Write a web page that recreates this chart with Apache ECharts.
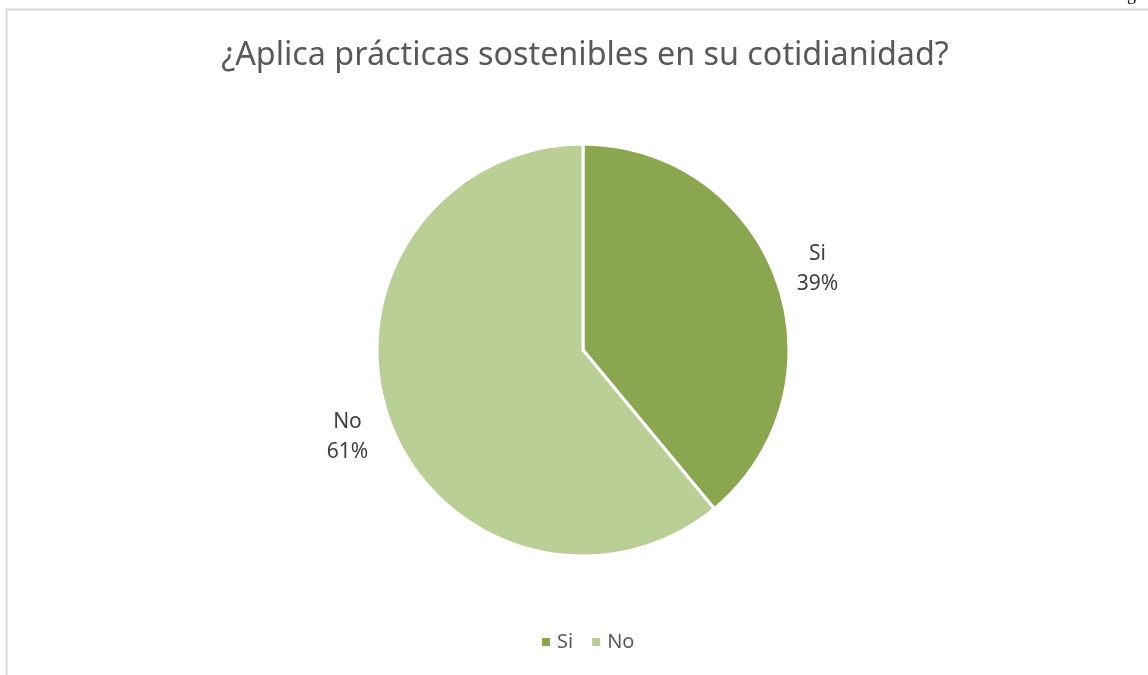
<!DOCTYPE html>
<html>
<head>
<meta charset="utf-8">
<script src="https://cdn.jsdelivr.net/npm/echarts@6/dist/echarts.min.js"></script>
<style>
  html, body { margin: 0; padding: 0; background: #ffffff; }
  #chart { width: 1148px; height: 675px; }
</style>
</head>
<body>
<div id="chart"></div>
<script>
// Survey answers and their shares (percent)
const titleText = '¿Aplica prácticas sostenibles en su cotidianidad?';
const categories = ['Si', 'No'];
const shares = [39, 61];
const sliceColors = ['#8aa64f', '#b9cf96'];

const chart = echarts.init(document.getElementById('chart'), null, { renderer: 'canvas' });

const font = '"Noto Sans", "Open Sans", sans-serif';

// small nudges for the outside data labels
const labelNudge = [[-8, -4], [7, 10]];

chart.setOption({
  animation: false,
  backgroundColor: '#ffffff',
  title: {
    text: titleText,
    left: 580,
    textAlign: 'center',
    top: 35,
    textStyle: { fontFamily: font, fontSize: 32.3, fontWeight: 'normal', color: '#595959' }
  },
  legend: {
    bottom: 18,
    left: 535,
    itemWidth: 10,
    itemHeight: 10,
    itemGap: 17,
    icon: 'rect',
    textStyle: { fontFamily: font, fontSize: 20, color: '#595959', padding: [0, 0, 0, 1] },
    data: categories
  },
  // Frame of the chart area
  graphic: [
    { type: 'line', shape: { x1: 6, y1: 9.5, x2: 1148, y2: 9.5 }, style: { stroke: '#d9d9d9', lineWidth: 2 } },
    { type: 'line', shape: { x1: 6.5, y1: 9, x2: 6.5, y2: 675 }, style: { stroke: '#d9d9d9', lineWidth: 2 } },
    { type: 'text', x: 1127, y: -14, style: { text: 'g', font: '18px "Liberation Serif", serif', fill: '#000000' } }
  ],
  series: [{
    type: 'pie',
    center: [583, 350],
    radius: [0, 206],
    startAngle: 90,
    clockwise: true,
    avoidLabelOverlap: false,
    itemStyle: { borderColor: '#ffffff', borderWidth: 3 },
    emphasis: { disabled: true },
    label: {
      show: true,
      position: 'outside',
      formatter: (p) => '{t|' + p.name + '}\n{t|' + p.value + '%}',
      rich: {
        t: { fontFamily: font, fontSize: 21, color: '#404040', width: 46, align: 'center', lineHeight: 30 }
      }
    },
    labelLine: { show: false, length: 22, length2: 0 },
    labelLayout: (params) => ({ dx: labelNudge[params.dataIndex][0], dy: labelNudge[params.dataIndex][1] }),
    data: categories.map((name, i) => ({
      name,
      value: shares[i],
      itemStyle: { color: sliceColors[i] }
    }))
  }]
});
</script>
</body>
</html>
